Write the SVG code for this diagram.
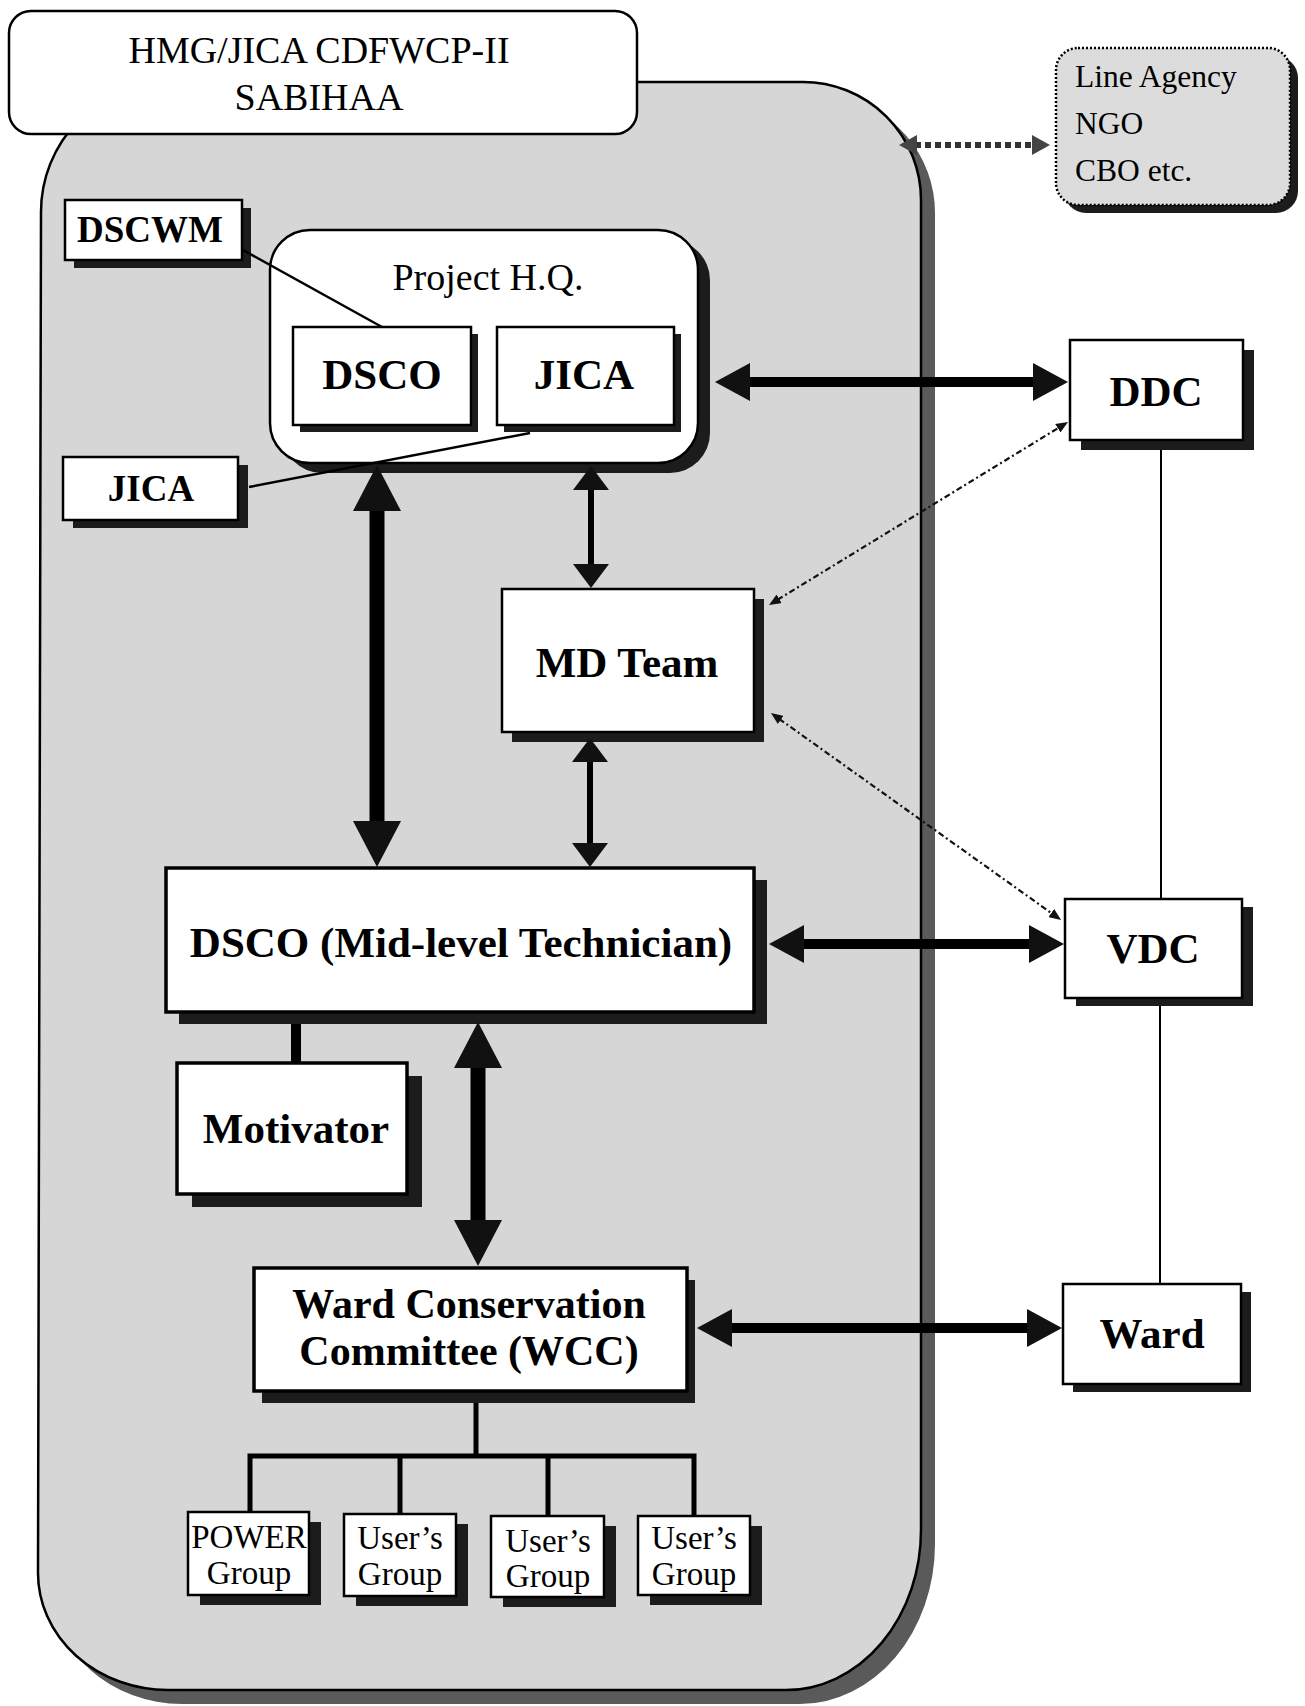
<svg xmlns="http://www.w3.org/2000/svg" width="1305" height="1706" viewBox="0 0 1305 1706">
<style>
.bx{fill:#fff;stroke:#000;stroke-width:2.5}
.bx3{fill:#fff;stroke:#000;stroke-width:3.5}
.sh{fill:#1c1c1c}
.t{font-family:"Liberation Serif","Times New Roman",serif;fill:#000;text-anchor:middle}
.s{text-anchor:start}
.b{font-weight:bold;font-size:43px}
.bs{font-weight:bold;font-size:37px}
.r{font-size:33px}
.ln{stroke:#000;fill:none}
</style>
<defs>
<marker id="hB" markerUnits="userSpaceOnUse" markerWidth="46" markerHeight="48" viewBox="0 0 46 48" refX="2" refY="24" orient="auto-start-reverse"><path d="M0,0 L46,24 L0,48 z" fill="#111"/></marker>
<marker id="hM" markerUnits="userSpaceOnUse" markerWidth="35" markerHeight="38" viewBox="0 0 35 38" refX="2" refY="19" orient="auto-start-reverse"><path d="M0,0 L35,19 L0,38 z" fill="#111"/></marker>
<marker id="hS" markerUnits="userSpaceOnUse" markerWidth="24" markerHeight="36" viewBox="0 0 24 36" refX="2" refY="18" orient="auto-start-reverse"><path d="M0,0 L24,18 L0,36 z" fill="#111"/></marker>
<marker id="hD" markerUnits="userSpaceOnUse" markerWidth="18" markerHeight="20" viewBox="0 0 18 20" refX="2" refY="10" orient="auto-start-reverse"><path d="M0,0 L18,10 L0,20 z" fill="#444"/></marker>
<marker id="hT" markerUnits="userSpaceOnUse" markerWidth="12" markerHeight="10" viewBox="0 0 12 10" refX="2" refY="5" orient="auto-start-reverse"><path d="M0,0 L12,5 L0,10 z" fill="#111"/></marker>
</defs>

<g id="project-area">
<path d="M55,226 A130,130 0 0 1 185,96 L833,96 A118,118 0 0 1 935,214 L935,1544 A135,160 0 0 1 800,1704 L182,1704 A130,117 0 0 1 52,1587 Z" fill="#5a5a5a"/>
<path d="M41,212 A130,130 0 0 1 171,82 L803,82 A118,118 0 0 1 921,200 L921,1530 A135,160 0 0 1 786,1690 L168,1690 A130,117 0 0 1 38,1573 Z" fill="#d6d6d6" stroke="#000" stroke-width="2.5"/>
</g>

<g id="title">
<rect x="9" y="11" width="628" height="123" rx="22" class="bx"/>
<text class="t" x="319" y="63" font-size="38">HMG/JICA CDFWCP-II</text>
<text class="t" x="319" y="110" font-size="38">SABIHAA</text>
</g>

<g id="line-agency">
<rect x="1064" y="56" width="234" height="157" rx="22" fill="#1c1c1c"/>
<rect x="1056" y="48" width="234" height="157" rx="22" fill="#dcdcdc" stroke="#000" stroke-width="2.5" stroke-dasharray="2 2"/>
<text class="t s" x="1075" y="87" font-size="31.5">Line Agency</text>
<text class="t s" x="1075" y="134" font-size="31.5">NGO</text>
<text class="t s" x="1075" y="181" font-size="31.5">CBO etc.</text>
</g>

<g id="project-hq">
<rect x="282" y="240" width="428" height="233" rx="40" class="sh"/>
<rect x="270" y="230" width="428" height="233" rx="40" class="bx"/>
<text class="t" x="488" y="290" font-size="38">Project H.Q.</text>
</g>

<g id="hq-dsco">
<rect x="300" y="334" width="178" height="98" class="sh"/>
<rect x="293" y="327" width="178" height="98" class="bx"/>
<text class="t b" x="382" y="389">DSCO</text>
</g>

<g id="hq-jica">
<rect x="504" y="334" width="177" height="98" class="sh"/>
<rect x="497" y="327" width="177" height="98" class="bx"/>
<text class="t b" x="584" y="389">JICA</text>
</g>

<g id="dscwm">
<rect x="74" y="208" width="177" height="60" class="sh"/>
<rect x="65" y="200" width="177" height="60" class="bx"/>
<text class="t bs" x="150" y="242">DSCWM</text>
</g>

<g id="jica-left">
<rect x="73" y="465" width="175" height="63" class="sh"/>
<rect x="63" y="457" width="175" height="63" class="bx"/>
<text class="t bs" x="151" y="501">JICA</text>
</g>

<g id="md-team">
<rect x="512" y="599" width="252" height="143" class="sh"/>
<rect x="502" y="589" width="252" height="143" class="bx"/>
<text class="t b" x="627" y="677">MD Team</text>
</g>

<g id="dsco-mid">
<rect x="179" y="880" width="588" height="144" class="sh"/>
<rect x="166" y="868" width="588" height="144" class="bx3"/>
<text class="t b" x="461" y="957">DSCO (Mid-level Technician)</text>
</g>

<g id="motivator">
<rect x="192" y="1076" width="230" height="131" class="sh"/>
<rect x="177" y="1063" width="230" height="131" class="bx3"/>
<text class="t b" x="296" y="1143">Motivator</text>
</g>

<g id="wcc">
<rect x="262" y="1280" width="433" height="123" class="sh"/>
<rect x="254" y="1268" width="433" height="123" class="bx3"/>
<text class="t b" x="469" y="1318" style="font-size:42px">Ward Conservation</text>
<text class="t b" x="469" y="1365" style="font-size:42px">Committee (WCC)</text>
</g>

<g id="ddc">
<rect x="1081" y="350" width="173" height="100" class="sh"/>
<rect x="1070" y="340" width="173" height="100" class="bx"/>
<text class="t b" x="1156" y="406">DDC</text>
</g>

<g id="vdc">
<rect x="1076" y="907" width="177" height="99" class="sh"/>
<rect x="1065" y="899" width="177" height="99" class="bx"/>
<text class="t b" x="1153" y="963">VDC</text>
</g>

<g id="ward">
<rect x="1073" y="1292" width="178" height="100" class="sh"/>
<rect x="1063" y="1284" width="178" height="100" class="bx"/>
<text class="t b" x="1152" y="1348">Ward</text>
</g>

<g id="power-group">
<rect x="200" y="1522" width="121" height="83" class="sh"/>
<rect x="188" y="1512" width="121" height="83" class="bx"/>
<text class="t r" x="249" y="1548">POWER</text>
<text class="t r" x="249" y="1584">Group</text>
</g>

<g id="users-group-1">
<rect x="356" y="1524" width="112" height="82" class="sh"/>
<rect x="344" y="1514" width="112" height="82" class="bx"/>
<text class="t r" x="400" y="1549">User’s</text>
<text class="t r" x="400" y="1585">Group</text>
</g>

<g id="users-group-2">
<rect x="503" y="1526" width="113" height="81" class="sh"/>
<rect x="491" y="1516" width="113" height="81" class="bx"/>
<text class="t r" x="548" y="1552">User’s</text>
<text class="t r" x="548" y="1587">Group</text>
</g>

<g id="users-group-3">
<rect x="650" y="1526" width="112" height="79" class="sh"/>
<rect x="638" y="1516" width="112" height="79" class="bx"/>
<text class="t r" x="694" y="1549">User’s</text>
<text class="t r" x="694" y="1585">Group</text>
</g>

<g id="connectors">
<line class="ln" x1="377" y1="509" x2="377" y2="823" stroke-width="15" marker-start="url(#hB)" marker-end="url(#hB)"/>
<line class="ln" x1="478" y1="1066" x2="478" y2="1222" stroke-width="15" marker-start="url(#hB)" marker-end="url(#hB)"/>
<line class="ln" x1="591" y1="488" x2="591" y2="566" stroke-width="6" marker-start="url(#hS)" marker-end="url(#hS)"/>
<line class="ln" x1="590" y1="760" x2="590" y2="845" stroke-width="6" marker-start="url(#hS)" marker-end="url(#hS)"/>
<line class="ln" x1="748" y1="382" x2="1035" y2="382" stroke-width="10" marker-start="url(#hM)" marker-end="url(#hM)"/>
<line class="ln" x1="802" y1="944" x2="1031" y2="944" stroke-width="10" marker-start="url(#hM)" marker-end="url(#hM)"/>
<line class="ln" x1="730" y1="1328" x2="1029" y2="1328" stroke-width="10" marker-start="url(#hM)" marker-end="url(#hM)"/>
<line x1="915" y1="145" x2="1034" y2="145" stroke="#333" stroke-width="6" stroke-dasharray="6 4" marker-start="url(#hD)" marker-end="url(#hD)"/>
<line x1="777.5" y1="599.8" x2="1059.5" y2="427.2" stroke="#111" stroke-width="2.2" stroke-dasharray="6 3 2 3" marker-start="url(#hT)" marker-end="url(#hT)"/>
<line x1="779.1" y1="718.8" x2="1052.9" y2="914.2" stroke="#111" stroke-width="2.2" stroke-dasharray="6 3 2 3" marker-start="url(#hT)" marker-end="url(#hT)"/>
<line class="ln" x1="243" y1="250" x2="382" y2="327" stroke-width="2.5"/>
<line class="ln" x1="249" y1="487" x2="530" y2="433" stroke-width="2.5"/>
<line class="ln" x1="1161" y1="450" x2="1161" y2="899" stroke-width="2"/>
<line class="ln" x1="1160" y1="1006" x2="1160" y2="1284" stroke-width="2"/>
<line class="ln" x1="296" y1="1024" x2="296" y2="1063" stroke-width="10"/>
<polyline class="ln" points="476,1403 476,1456" stroke-width="5"/>
<polyline class="ln" points="250,1512 250,1456 694,1456 694,1516" stroke-width="5"/>
<line class="ln" x1="400" y1="1456" x2="400" y2="1514" stroke-width="5"/>
<line class="ln" x1="548" y1="1456" x2="548" y2="1516" stroke-width="5"/>
</g>
</svg>
